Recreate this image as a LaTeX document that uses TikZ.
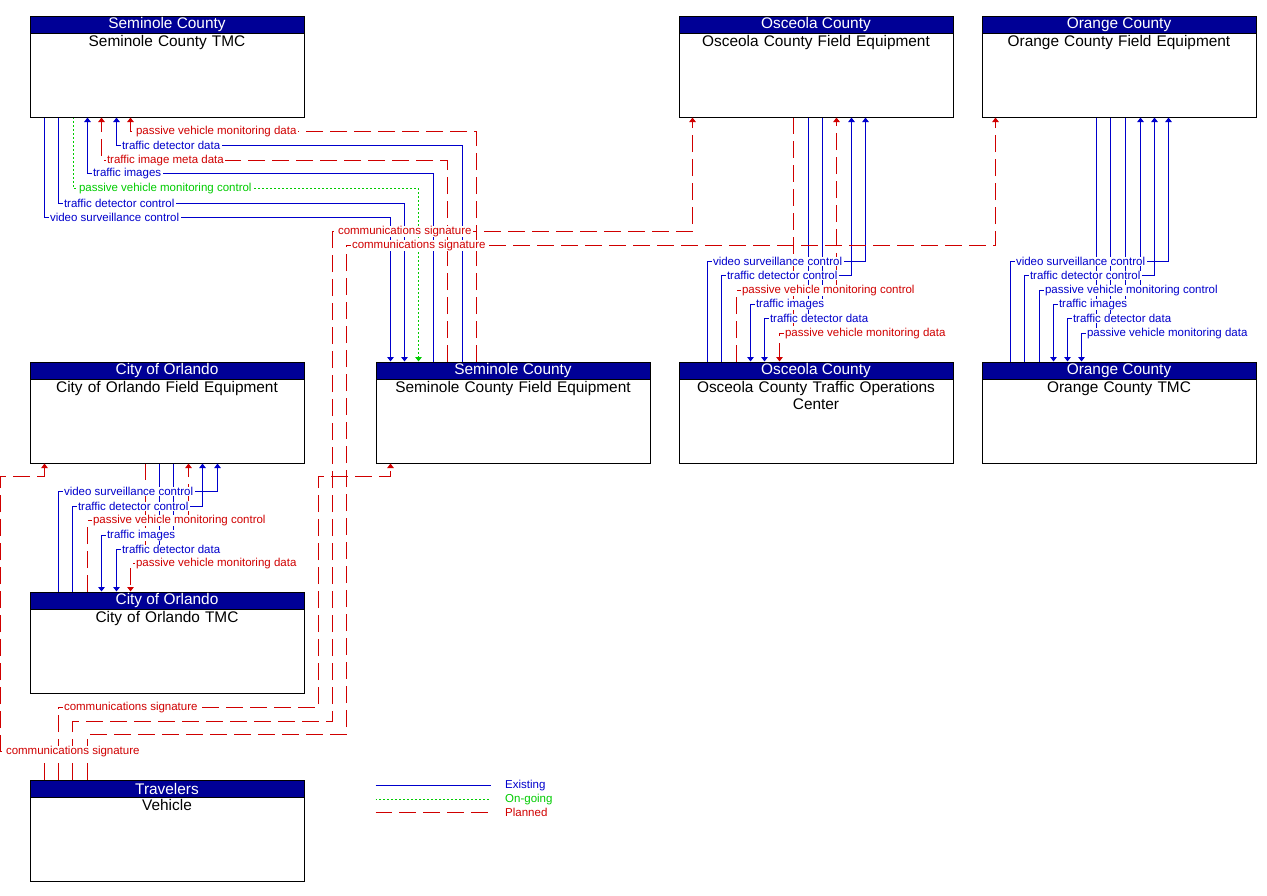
\documentclass[tikz,border=0pt]{standalone}
\usepackage{fontspec}
\setmainfont{Liberation Sans}
\usetikzlibrary{positioning,arrows.meta}
\definecolor{HeadBlue}{HTML}{000096}
\definecolor{ExistBlue}{HTML}{0000CC}
\definecolor{PlanRed}{HTML}{D00000}
\definecolor{GoGreen}{HTML}{00CC00}

\begin{document}
\begin{tikzpicture}[
    x=1pt,y=-1pt,
    every node/.style={align=center},
    box/.style={draw=black,line width=1pt,anchor=north west,minimum width=274pt,minimum height=101pt,inner sep=0pt},
    boxhead/.style={draw=black,line width=1pt,fill=HeadBlue,text=white,minimum width=274pt,minimum height=17pt,inner sep=0pt,font=\fontsize{15.4}{17}\selectfont},
    boxtitle/.style={text width=268pt,inner xsep=0pt,inner ysep=2pt,font=\fontsize{15.4}{17}\selectfont},
    flow/.style={-{Triangle[width=6.5pt,length=4.5pt]}},
    existing/.style={draw=ExistBlue,line width=1pt},
    ongoing/.style={draw=GoGreen,line width=1pt,dash pattern=on 2pt off 2pt,dash phase=0.5pt},
    planned/.style={draw=PlanRed,line width=1pt,dash pattern=on 17pt off 7pt,dash phase=0.5pt},
    lbl/.style={anchor=west,xshift=3.5pt,fill=white,inner xsep=1.5pt,inner ysep=0.5pt,font=\fontsize{11.5}{13}\selectfont},
    exlbl/.style={lbl,text=ExistBlue},
    golbl/.style={lbl,text=GoGreen},
    pllbl/.style={lbl,text=PlanRed}
  ]
    \useasboundingbox (0,0) rectangle (1267,895);

    % entities
    \node[box] (semtmc) at (29.5,15.5) {};
    \node[boxhead,below=0pt of semtmc.north] (semtmch) {Seminole County};
    \node[boxtitle,below=0pt of semtmch] (semtmct) {Seminole County TMC};

    \node[box] (oscfe) at (678.5,15.5) {};
    \node[boxhead,below=0pt of oscfe.north] (oscfeh) {Osceola County};
    \node[boxtitle,below=0pt of oscfeh] (oscfet) {Osceola County Field Equipment};

    \node[box] (orgfe) at (981.5,15.5) {};
    \node[boxhead,below=0pt of orgfe.north] (orgfeh) {Orange County};
    \node[boxtitle,below=0pt of orgfeh] (orgfet) {Orange County Field Equipment};

    \node[box] (coofe) at (29.5,361.5) {};
    \node[boxhead,below=0pt of coofe.north] (coofeh) {City of Orlando};
    \node[boxtitle,below=0pt of coofeh] (coofet) {City of Orlando Field Equipment};

    \node[box] (semfe) at (375.5,361.5) {};
    \node[boxhead,below=0pt of semfe.north] (semfeh) {Seminole County};
    \node[boxtitle,below=0pt of semfeh] (semfet) {Seminole County Field Equipment};

    \node[box] (osctoc) at (678.5,361.5) {};
    \node[boxhead,below=0pt of osctoc.north] (osctoch) {Osceola County};
    \node[boxtitle,below=0pt of osctoch] (osctoct) {Osceola County Traffic Operations\\Center};

    \node[box] (orgtmc) at (981.5,361.5) {};
    \node[boxhead,below=0pt of orgtmc.north] (orgtmch) {Orange County};
    \node[boxtitle,below=0pt of orgtmch] (orgtmct) {Orange County TMC};

    \node[box] (cootmc) at (29.5,591.5) {};
    \node[boxhead,below=0pt of cootmc.north] (cootmch) {City of Orlando};
    \node[boxtitle,below=0pt of cootmch] (cootmct) {City of Orlando TMC};

    \node[box] (veh) at (29.5,779.5) {};
    \node[boxhead,below=0pt of veh.north] (vehh) {Travelers};
    \node[boxtitle,below=0pt of vehh] (veht) {Vehicle};

    % Seminole County TMC <-> Seminole County Field Equipment
    \draw[existing,flow] (44.5,0 |- semtmc.south) -- (44.5,217.5) node[exlbl] (s1) {video surveillance control} -- (390.5,217.5) -- (390.5,0 |- semfe.north);
    \draw[existing,flow] (58.5,0 |- semtmc.south) -- (58.5,203.5) node[exlbl] (s2) {traffic detector control} -- (404.5,203.5) -- (404.5,0 |- semfe.north);
    \draw[ongoing,flow] (73.5,0 |- semtmc.south) -- (73.5,188.5) node[golbl] (s3) {passive vehicle monitoring control} -- (418.5,188.5) -- (418.5,0 |- semfe.north);
    \draw[existing,flow] (433.5,0 |- semfe.north) -- (433.5,173.5) -- (87.5,173.5) node[exlbl] (s4) {traffic images} -- (87.5,0 |- semtmc.south);
    \draw[planned,flow] (447.5,0 |- semfe.north) -- (447.5,160.5) -- (101.5,160.5) node[pllbl] (s5) {traffic image meta data} -- (101.5,0 |- semtmc.south);
    \draw[existing,flow] (462.5,0 |- semfe.north) -- (462.5,145.5) -- (116.5,145.5) node[exlbl] (s6) {traffic detector data} -- (116.5,0 |- semtmc.south);
    \draw[planned,flow] (476.5,0 |- semfe.north) -- (476.5,131.5) -- (130.5,131.5) node[pllbl] (s7) {passive vehicle monitoring data} -- (130.5,0 |- semtmc.south);

    % Osceola County Traffic Operations Center <-> Osceola County Field Equipment
    \draw[planned,flow] (793.5,0 |- oscfe.south) -- (793.5,333.5) -- (779.5,333.5) node[pllbl] (o6) {passive vehicle monitoring data} -- (779.5,0 |- osctoc.north);
    \draw[existing,flow] (808.5,0 |- oscfe.south) -- (808.5,318.5) -- (764.5,318.5) node[exlbl] (o5) {traffic detector data} -- (764.5,0 |- osctoc.north);
    \draw[existing,flow] (822.5,0 |- oscfe.south) -- (822.5,304.5) -- (750.5,304.5) node[exlbl] (o4) {traffic images} -- (750.5,0 |- osctoc.north);
    \draw[planned,flow] (736.5,0 |- osctoc.north) -- (736.5,290.5) node[pllbl] (o3) {passive vehicle monitoring control} -- (836.5,290.5) -- (836.5,0 |- oscfe.south);
    \draw[existing,flow] (721.5,0 |- osctoc.north) -- (721.5,275.5) node[exlbl] (o2) {traffic detector control} -- (851.5,275.5) -- (851.5,0 |- oscfe.south);
    \draw[existing,flow] (707.5,0 |- osctoc.north) -- (707.5,261.5) node[exlbl] (o1) {video surveillance control} -- (865.5,261.5) -- (865.5,0 |- oscfe.south);

    % Orange County TMC <-> Orange County Field Equipment
    \draw[existing,flow] (1096.5,0 |- orgfe.south) -- (1096.5,333.5) -- (1081.5,333.5) node[exlbl] (g6) {passive vehicle monitoring data} -- (1081.5,0 |- orgtmc.north);
    \draw[existing,flow] (1110.5,0 |- orgfe.south) -- (1110.5,318.5) -- (1067.5,318.5) node[exlbl] (g5) {traffic detector data} -- (1067.5,0 |- orgtmc.north);
    \draw[existing,flow] (1125.5,0 |- orgfe.south) -- (1125.5,304.5) -- (1053.5,304.5) node[exlbl] (g4) {traffic images} -- (1053.5,0 |- orgtmc.north);
    \draw[existing,flow] (1039.5,0 |- orgtmc.north) -- (1039.5,290.5) node[exlbl] (g3) {passive vehicle monitoring control} -- (1140.5,290.5) -- (1140.5,0 |- orgfe.south);
    \draw[existing,flow] (1024.5,0 |- orgtmc.north) -- (1024.5,275.5) node[exlbl] (g2) {traffic detector control} -- (1154.5,275.5) -- (1154.5,0 |- orgfe.south);
    \draw[existing,flow] (1010.5,0 |- orgtmc.north) -- (1010.5,261.5) node[exlbl] (g1) {video surveillance control} -- (1168.5,261.5) -- (1168.5,0 |- orgfe.south);

    % City of Orlando TMC <-> City of Orlando Field Equipment
    \draw[planned,flow] (145.5,0 |- coofe.south) -- (145.5,563.5) -- (130.5,563.5) node[pllbl] (c6) {passive vehicle monitoring data} -- (130.5,0 |- cootmc.north);
    \draw[existing,flow] (159.5,0 |- coofe.south) -- (159.5,549.5) -- (116.5,549.5) node[exlbl] (c5) {traffic detector data} -- (116.5,0 |- cootmc.north);
    \draw[existing,flow] (173.5,0 |- coofe.south) -- (173.5,535.5) -- (101.5,535.5) node[exlbl] (c4) {traffic images} -- (101.5,0 |- cootmc.north);
    \draw[planned,flow] (87.5,0 |- cootmc.north) -- (87.5,520.5) node[pllbl] (c3) {passive vehicle monitoring control} -- (188.5,520.5) -- (188.5,0 |- coofe.south);
    \draw[existing,flow] (72.5,0 |- cootmc.north) -- (72.5,506.5) node[exlbl] (c2) {traffic detector control} -- (202.5,506.5) -- (202.5,0 |- coofe.south);
    \draw[existing,flow] (58.5,0 |- cootmc.north) -- (58.5,491.5) node[exlbl] (c1) {video surveillance control} -- (217.5,491.5) -- (217.5,0 |- coofe.south);

    % Vehicle -> field equipment
    \draw[planned,flow] (72.5,0 |- veh.north) -- (72.5,721.5) -- (332.5,721.5) -- (332.5,231.5) node[pllbl] (v3) {communications signature} -- (692.5,231.5) -- (692.5,0 |- oscfe.south);
    \draw[planned,flow] (87.5,0 |- veh.north) -- (87.5,734.5) -- (346.5,734.5) -- (346.5,245.5) node[pllbl] (v4) {communications signature} -- (995.5,245.5) -- (995.5,0 |- orgfe.south);
    \draw[planned,flow] (58.5,0 |- veh.north) -- (58.5,707.5) node[pllbl] (v2) {communications signature} -- (318.5,707.5) -- (318.5,476.5) -- (390.5,476.5) -- (390.5,0 |- semfe.south);
    \draw[planned,flow] (44.5,0 |- veh.north) -- (44.5,751.5) -- (0.5,751.5) node[pllbl] (v1) {communications signature} -- (0.5,476.5) -- (44.5,476.5) -- (44.5,0 |- coofe.south);

    % legend
    \node[exlbl] (legex) at (500,785.5) {Existing};
    \node[golbl] (leggo) at (500,799.5) {On-going};
    \node[pllbl] (legpl) at (500,812.5) {Planned};
    \draw[existing] (375.5,0 |- legex.west) -- (490.5,0 |- legex.west);
    \draw[ongoing] (375.5,0 |- leggo.west) -- (490.5,0 |- leggo.west);
    \draw[planned] (375.5,0 |- legpl.west) -- (490.5,0 |- legpl.west);
  \end{tikzpicture}
\end{document}
